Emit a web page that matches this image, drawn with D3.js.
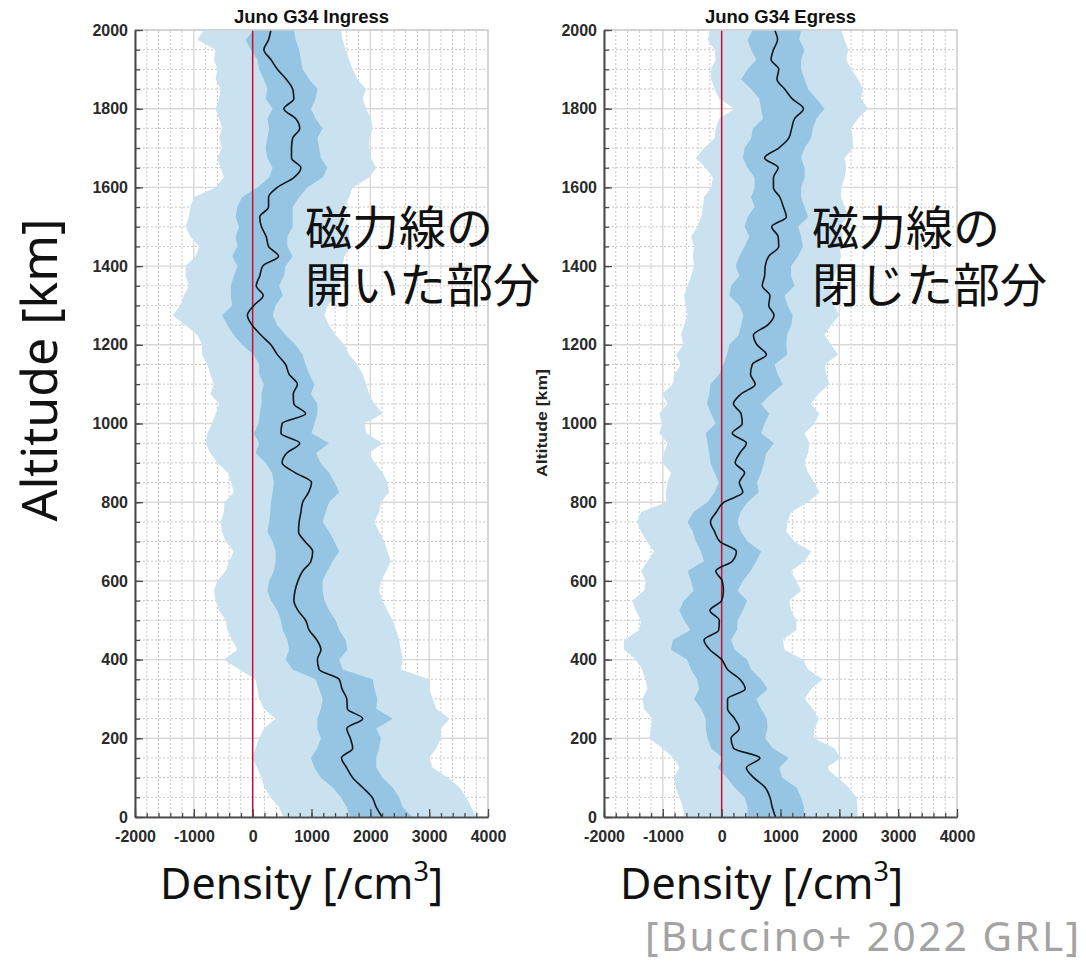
<!DOCTYPE html>
<html>
<head>
<meta charset="utf-8">
<script src="https://cdn.jsdelivr.net/npm/d3@7"></script>
<style>
  body { margin: 0; background: #fff; }
  svg { display: block; }
</style>
</head>
<body>
<div id="chart"></div>
<script>
// altitude samples (km), top to bottom
const altitude = [
  2000, 1975, 1950, 1925, 1900, 1875, 1850, 1825, 1800, 1775,
  1750, 1725, 1700, 1675, 1650, 1625, 1600, 1575, 1550, 1525,
  1500, 1475, 1450, 1425, 1400, 1375, 1350, 1325, 1300, 1275,
  1250, 1225, 1200, 1175, 1150, 1125, 1100, 1075, 1050, 1025,
  1000, 975, 950, 925, 900, 875, 850, 825, 800, 775,
  750, 725, 700, 675, 650, 625, 600, 575, 550, 525,
  500, 475, 450, 425, 400, 375, 350, 325, 300, 275,
  250, 225, 200, 175, 150, 125, 100, 75, 50, 25,
  0
];

// Ingress: mean density and the two spread bands (/cm3)
const ingressMean = [
  310, 270, 190, 310, 420, 570, 680, 700, 530, 730,
  800, 680, 660, 660, 820, 700, 420, 270, 270, 120,
  150, 230, 270, 440, 170, 120, 60, 180, 20, -90,
  -10, 140, 310, 420, 560, 620, 760, 690, 700, 900,
  500, 480, 800, 580, 500, 720, 1000, 950, 850, 820,
  790, 780, 890, 1020, 990, 850, 770, 720, 700, 770,
  900, 960, 1090, 1160, 1100, 1130, 1470, 1520, 1600, 1610,
  1870, 1600, 1660, 1700, 1510, 1600, 1700, 1870, 2030, 2100,
  2200
];
const ingressDarkLo = [
  20, -120, -30, 80, 110, 190, 250, 220, 340, 250,
  280, 250, 220, 250, 340, 280, 80, -180, -260, -290,
  -230, -290, -260, -350, -260, -320, -370, -370, -350, -520,
  -430, -320, -180, 20, 110, 110, 190, 150, 150, 120,
  100, 20, 110, 50, 220, 330, 360, 340, 310, 300,
  280, 250, 340, 390, 390, 360, 280, 250, 310, 420,
  480, 510, 590, 620, 560, 680, 1070, 1130, 1190, 1160,
  1100, 1100, 1160, 1100, 990, 1050, 1160, 1360, 1500, 1600,
  1650
];
const ingressDarkHi = [
  700, 730, 790, 820, 850, 960, 1100, 1070, 990, 1070,
  1190, 1100, 1130, 1160, 1270, 1190, 930, 790, 680, 680,
  680, 590, 590, 680, 560, 530, 450, 510, 390, 340,
  420, 560, 730, 850, 900, 960, 1050, 990, 1100, 1100,
  1050, 1000, 1300, 1080, 1150, 1300, 1390, 1470, 1300, 1240,
  1190, 1300, 1390, 1470, 1360, 1270, 1190, 1190, 1220, 1300,
  1410, 1470, 1580, 1610, 1470, 1530, 2040, 2070, 2120, 2100,
  2380, 2100, 2180, 2150, 2100, 2100, 2210, 2380, 2490, 2550,
  2720
];
const ingressLightLo = [
  -830, -940, -630, -660, -600, -630, -545, -570, -630, -570,
  -520, -570, -520, -600, -545, -490, -630, -1000, -1060, -1085,
  -1140, -1060, -910, -970, -1140, -1140, -1085, -1170, -1230, -1360,
  -1140, -940, -860, -860, -770, -720, -660, -720, -570, -630,
  -690, -770, -800, -720, -600, -420, -370, -320, -480, -490,
  -545, -520, -460, -320, -400, -460, -600, -660, -630, -570,
  -460, -430, -350, -260, -490, -230, 50, 80, 110, 190,
  390, 190, 110, 50, -10, 80, 150, 200, 300, 450,
  520
];
const ingressLightHi = [
  1500, 1530, 1580, 1640, 1700, 1780, 1930, 1870, 1930, 2010,
  2040, 1980, 1980, 2010, 2100, 1980, 1700, 1640, 1560, 1530,
  1640, 1640, 1670, 1560, 1530, 1500, 1470, 1440, 1270, 1220,
  1300, 1410, 1560, 1640, 1780, 1870, 1930, 1980, 2070, 2210,
  1900, 1930, 2210, 1980, 2070, 2210, 2290, 2320, 2180, 2150,
  2070, 2150, 2240, 2290, 2350, 2270, 2180, 2150, 2210, 2290,
  2380, 2440, 2490, 2520, 2550, 2520, 3000, 3000, 3060, 3120,
  3350, 3200, 3200, 3120, 3000, 3060, 3320, 3520, 3630, 3720,
  3800
];

// Egress
const egressMean = [
  900, 950, 880, 840, 970, 940, 1070, 1200, 1390, 1240,
  1190, 1140, 970, 730, 960, 880, 880, 990, 1050, 1100,
  850, 960, 970, 800, 740, 730, 690, 820, 800, 890,
  780, 540, 600, 760, 520, 490, 570, 330, 200, 330,
  350, 180, 420, 310, 230, 390, 300, 360, 40, -90,
  -190, -120, -30, 250, 180, -100, 10, 30, 0, -200,
  -40, -50, -300, -200, 0, 100, 310, 400, 100, 100,
  220, 300, 160, 200, 650, 420, 545, 740, 820, 860,
  915
];
const egressDarkLo = [
  530, 440, 500, 590, 440, 330, 500, 640, 670, 700,
  530, 500, 390, 360, 440, 560, 560, 500, 560, 440,
  390, 470, 390, 300, 240, 300, 160, 130, 300, 370,
  330, 290, 130, 90, 30, -40, -190, -210, -250, -180,
  -100, -270, -240, -210, -190, -120, -50, -120, -240, -480,
  -580, -490, -440, -350, -300, -580, -520, -480, -640, -720,
  -640, -530, -830, -860, -590, -520, -420, -380, -470, -350,
  -270, -270, -240, -180, 20, -70, 90, 220, 390, 440,
  440
];
const egressDarkHi = [
  1350, 1320, 1410, 1350, 1350, 1410, 1470, 1610, 1750, 1610,
  1550, 1520, 1410, 1350, 1410, 1410, 1350, 1350, 1410, 1470,
  1300, 1350, 1380, 1300, 1180, 1180, 1240, 1070, 1120, 1210,
  1180, 1110, 1100, 1110, 900, 950, 1040, 840, 670, 810,
  730, 670, 890, 760, 720, 670, 600, 630, 440, 320,
  270, 330, 440, 670, 590, 490, 360, 270, 430, 360,
  270, 260, 160, 220, 430, 500, 670, 780, 590, 670,
  770, 780, 740, 870, 1140, 980, 1030, 1270, 1350, 1400,
  1400
];
const egressLightLo = [
  -190, -240, -120, -100, -180, -180, -120, -40, 220, -40,
  -100, -120, -300, -440, -270, -150, -180, -300, -320, -350,
  -410, -520, -470, -490, -470, -520, -580, -640, -610, -580,
  -640, -690, -650, -780, -690, -810, -830, -1010, -920, -1060,
  -1010, -1060, -920, -980, -1010, -860, -920, -950, -940, -1370,
  -1440, -1370, -1270, -1150, -1260, -1370, -1290, -1320, -1520, -1460,
  -1370, -1400, -1660, -1660, -1460, -1350, -1300, -1260, -1350, -1320,
  -1180, -1200, -1230, -1010, -810, -720, -810, -780, -720, -660,
  -640
];
const egressLightHi = [
  2030, 2090, 2150, 2120, 2200, 2320, 2400, 2370, 2490, 2320,
  2200, 2230, 2230, 2090, 2120, 2090, 2030, 2030, 2090, 2150,
  2000, 2060, 2000, 2030, 1980, 1920, 1860, 1860, 1920, 2000,
  1860, 1750, 1860, 1980, 1750, 1780, 1830, 1640, 1520, 1660,
  1580, 1410, 1490, 1470, 1410, 1470, 1580, 1660, 1470, 1180,
  1120, 1100, 1240, 1520, 1410, 1180, 1270, 1350, 1150, 1180,
  1270, 1270, 1040, 1070, 1380, 1470, 1720, 1520, 1410, 1550,
  1650, 1580, 1570, 1920, 2020, 1780, 1970, 2160, 2290, 2310,
  2310
];

const xTicks = [-2000, -1000, 0, 1000, 2000, 3000, 4000];
const yTicks = [0, 200, 400, 600, 800, 1000, 1200, 1400, 1600, 1800, 2000];

const W = 1086, H = 963;
const svg = d3.select("#chart").append("svg")
  .attr("width", W)
  .attr("height", H)
  .style("background", "#fff");

const tickFont = "'Liberation Sans', Arial, sans-serif";
const bigFont = "'Noto Sans', 'Open Sans', sans-serif";
const cjkFont = "'Noto Sans CJK JP', 'Noto Sans', sans-serif";
const plain = d => String(d);   // "-2000", no thousands comma

function drawPanel(p) {
  const x = d3.scaleLinear().domain([-2000, 4000]).range([p.left, p.right]);
  const y = d3.scaleLinear().domain([0, 2000]).range([817, 30]);
  const g = svg.append("g");

  // grid
  const xMinor = d3.range(-2000, 4001, 200).filter(v => v % 1000 !== 0);
  const yMinor = d3.range(0, 2001, 50).filter(v => v % 200 !== 0);
  g.selectAll(".vmin").data(xMinor).enter().append("line")
    .attr("x1", d => x(d)).attr("x2", d => x(d))
    .attr("y1", y(0)).attr("y2", y(2000))
    .attr("stroke", "#c6c6c6").attr("stroke-dasharray", "2,2");
  g.selectAll(".hmin").data(yMinor).enter().append("line")
    .attr("x1", x(-2000)).attr("x2", x(4000))
    .attr("y1", d => y(d)).attr("y2", d => y(d))
    .attr("stroke", "#c6c6c6").attr("stroke-dasharray", "2,2");
  g.selectAll(".vmaj").data(xTicks).enter().append("line")
    .attr("x1", d => x(d)).attr("x2", d => x(d))
    .attr("y1", y(0)).attr("y2", y(2000))
    .attr("stroke", "#d8d8d8").attr("stroke-width", 1.4);
  g.selectAll(".hmaj").data(yTicks).enter().append("line")
    .attr("x1", x(-2000)).attr("x2", x(4000))
    .attr("y1", d => y(d)).attr("y2", d => y(d))
    .attr("stroke", "#d8d8d8").attr("stroke-width", 1.4);

  // bands
  const rows = altitude.map((a, i) => ({
    alt: a, mean: p.mean[i],
    dLo: p.darkLo[i], dHi: p.darkHi[i],
    lLo: p.lightLo[i], lHi: p.lightHi[i]
  }));
  const area = (lo, hi) => d3.area()
    .y(d => y(d.alt))
    .x0(d => x(d[lo]))
    .x1(d => x(d[hi]));

  g.append("path").datum(rows)
    .attr("d", area("lLo", "lHi"))
    .attr("fill", "#cae2f0");
  g.append("path").datum(rows)
    .attr("d", area("dLo", "dHi"))
    .attr("fill", "#95c5e3");

  // zero line
  g.append("line")
    .attr("x1", x(0)).attr("x2", x(0))
    .attr("y1", y(0)).attr("y2", y(2000))
    .attr("stroke", "#c8102e").attr("stroke-width", 1.5);

  // mean profile
  g.append("path").datum(rows)
    .attr("d", d3.line().x(d => x(d.mean)).y(d => y(d.alt)).curve(d3.curveMonotoneY))
    .attr("fill", "none")
    .attr("stroke", "#151515")
    .attr("stroke-width", 1.6);

  // frame (top, right)
  g.append("path")
    .attr("d", `M${x(-2000)},${y(2000)}H${x(4000)}V${y(0)}`)
    .attr("fill", "none").attr("stroke", "#cfcfcf").attr("stroke-width", 1.4);

  // axes
  const xMinorAxis = g.append("g").attr("transform", `translate(0,${y(0)})`)
    .call(d3.axisBottom(x).tickValues(d3.range(-2000, 4001, 200)).tickSize(-4).tickSizeOuter(0).tickFormat(""));
  const xAxis = g.append("g").attr("transform", `translate(0,${y(0)})`)
    .call(d3.axisBottom(x).tickValues(xTicks).tickSize(-8).tickSizeOuter(0).tickPadding(14).tickFormat(plain));
  const yMinorAxis = g.append("g").attr("transform", `translate(${x(-2000)},0)`)
    .call(d3.axisLeft(y).tickValues(d3.range(0, 2001, 50)).tickSize(-5).tickSizeOuter(0).tickFormat(""));
  const yAxis = g.append("g").attr("transform", `translate(${x(-2000)},0)`)
    .call(d3.axisLeft(y).tickValues(yTicks).tickSize(-8).tickSizeOuter(0).tickPadding(7).tickFormat(plain));

  [xMinorAxis, xAxis, yMinorAxis, yAxis].forEach(a => {
    a.selectAll("path.domain").attr("stroke", "#4a4a4a").attr("stroke-width", 1.6);
    a.selectAll(".tick line").attr("stroke", "#4a4a4a").attr("stroke-width", 1.3);
    a.selectAll("text")
      .attr("font-family", tickFont)
      .attr("font-weight", "bold")
      .attr("font-size", 16)
      .attr("fill", "#2a2a2a");
  });

  // title
  g.append("text")
    .attr("x", (p.left + p.right) / 2)
    .attr("y", 23)
    .attr("text-anchor", "middle")
    .attr("font-family", tickFont)
    .attr("font-weight", "bold")
    .attr("font-size", 18.5)
    .attr("fill", "#111")
    .text(p.title);

  // big x label
  const xl = g.append("text")
    .attr("x", p.labelX)
    .attr("y", 899)
    .attr("font-family", bigFont)
    .attr("font-size", 43)
    .attr("fill", "#111");
  xl.append("tspan").text("Density [/cm");
  xl.append("tspan").attr("font-size", 27).attr("dy", -18).text("3");
  xl.append("tspan").attr("dy", 18).text("]");

  // annotation
  p.note.forEach((t, i) => {
    g.append("text")
      .attr("x", p.noteX)
      .attr("y", 245 + i * 57)
      .attr("font-family", cjkFont)
      .attr("font-size", 47)
      .attr("fill", "#111")
      .text(t);
  });
}

drawPanel({
  left: 135, right: 488, title: "Juno G34 Ingress",
  mean: ingressMean, darkLo: ingressDarkLo, darkHi: ingressDarkHi,
  lightLo: ingressLightLo, lightHi: ingressLightHi,
  labelX: 160, noteX: 305, note: ["磁力線の", "開いた部分"]
});
drawPanel({
  left: 604, right: 957, title: "Juno G34 Egress",
  mean: egressMean, darkLo: egressDarkLo, darkHi: egressDarkHi,
  lightLo: egressLightLo, lightHi: egressLightHi,
  labelX: 620, noteX: 812, note: ["磁力線の", "閉じた部分"]
});

// big y label
svg.append("text")
  .attr("transform", "translate(57,370) rotate(-90)")
  .attr("text-anchor", "middle")
  .attr("font-family", bigFont)
  .attr("font-size", 50)
  .attr("fill", "#111")
  .text("Altitude [km]");

// small y label of the right panel
svg.append("text")
  .attr("transform", "translate(547,423) rotate(-90)")
  .attr("text-anchor", "middle")
  .attr("font-family", tickFont)
  .attr("font-weight", "bold")
  .attr("font-size", 14)
  .attr("textLength", 108)
  .attr("lengthAdjust", "spacingAndGlyphs")
  .attr("fill", "#222")
  .text("Altitude [km]");

// source
svg.append("text")
  .attr("x", 645)
  .attr("y", 951)
  .attr("font-family", bigFont)
  .attr("font-size", 40.5)
  .attr("textLength", 434)
  .attr("lengthAdjust", "spacing")
  .attr("fill", "#a3a3a3")
  .text("[Buccino+ 2022 GRL]");
</script>
</body>
</html>
